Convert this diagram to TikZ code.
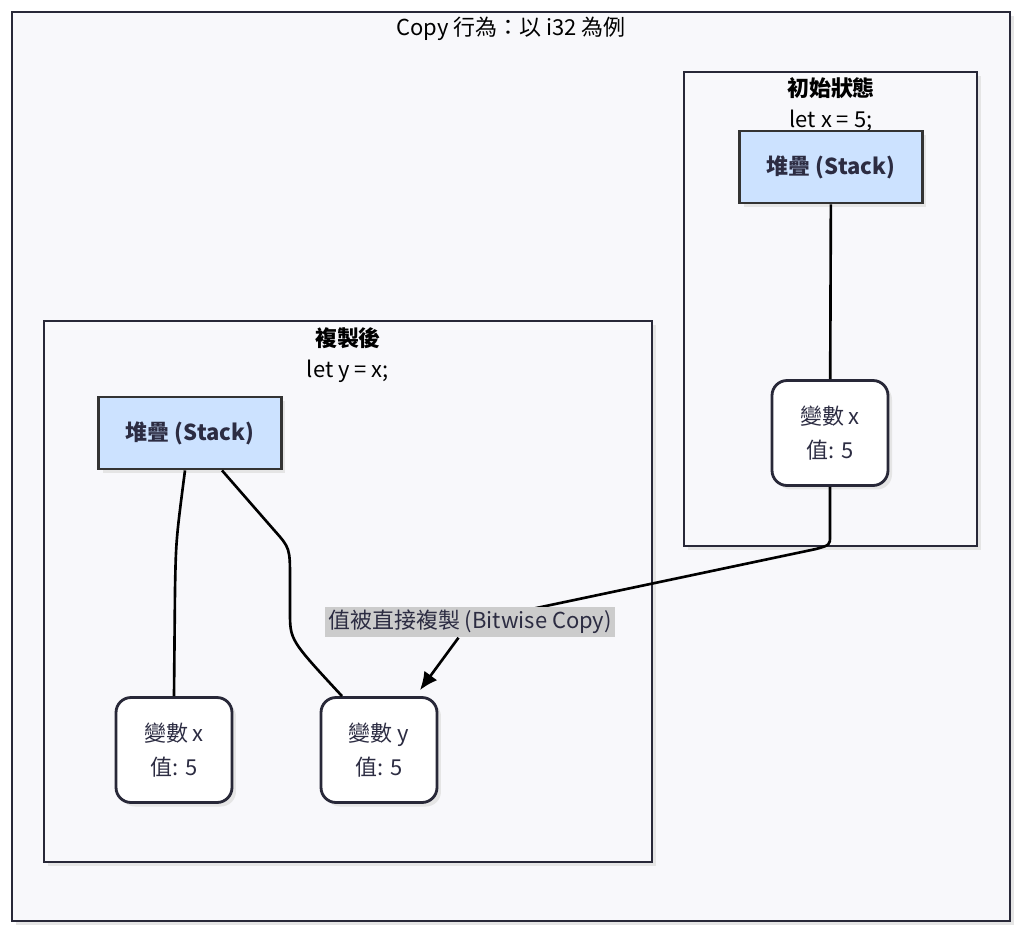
\documentclass[tikz,border=0pt]{standalone}
\usepackage{fontspec}
\setmainfont{Noto Sans CJK TC}
\usetikzlibrary{arrows.meta,positioning,shadows}
\definecolor{bgc}{RGB}{248,248,251}
\definecolor{edgec}{RGB}{40,40,56}
\definecolor{boxc}{RGB}{51,51,51}
\definecolor{stackc}{RGB}{204,226,255}
\definecolor{txtc}{RGB}{44,44,66}
\definecolor{lblc}{RGB}{204,204,204}

\begin{document}
\begin{tikzpicture}[x=0.02cm,y=-0.02cm,font=\fontsize{12.5}{15}\selectfont,
  cluster/.style={draw=edgec,fill=bgc,line width=1.6pt,drop shadow={fill=black!10,opacity=1,shadow xshift=0.08cm,shadow yshift=-0.08cm}},
  stackbox/.style={draw=boxc,fill=stackc,line width=1.6pt,minimum width=3.66cm,minimum height=1.44cm,font=\fontsize{12.5}{15}\selectfont\bfseries,text=txtc,drop shadow={fill=black!10,opacity=1,shadow xshift=0.08cm,shadow yshift=-0.08cm}},
  varbox/.style={draw=edgec,fill=white,line width=1.6pt,rounded corners=0.3cm,minimum width=2.32cm,minimum height=2.1cm,align=center,text=txtc,font=\fontsize{12.5}{19.5}\selectfont,drop shadow={fill=black!10,opacity=1,shadow xshift=0.08cm,shadow yshift=-0.08cm}},
  link/.style={line width=1.5pt},
  flow/.style={line width=1.5pt,-{Latex[length=3.6mm,width=3.2mm]}},
  copylbl/.style={fill=lblc,inner sep=2pt,text=txtc}]
  \useasboundingbox (0,0) rectangle (1024,937);
  \fill[white] (0,0) rectangle (1024,937);
  \draw[cluster] (12,12) rectangle (1010,921);
  \node (title) at (511,29) {Copy 行為：以 i32 為例};
  \draw[cluster] (684,72) rectangle (977,546);
  \node[font=\fontsize{12.5}{15}\selectfont\bfseries] (inittitle) at (831,88) {初始狀態};
  \node (initcode) at (831,121) {let x = 5;};
  \draw[cluster] (44,321) rectangle (652,862);
  \node[font=\fontsize{12.5}{15}\selectfont\bfseries] (copytitle) at (348,338) {複製後};
  \node (copycode) at (348,371) {let y = x;};
  \node[stackbox] (rs) at (831,167) {堆疊 (Stack)};
  \node[varbox] (rx) at (830,433) {變數 x\\值: 5};
  \node[stackbox] (ls) at (190,433) {堆疊 (Stack)};
  \node[varbox] (lx) at (174,750) {變數 x\\值: 5};
  \node[varbox] (ly) at (379,750) {變數 y\\值: 5};
  \draw[link] (rs) -- (rx);
  \draw[link] ([xshift=-0.1cm]ls.south) .. controls (176,540) .. (175,590) -- (lx.north);
  \draw[link] ([xshift=0.64cm]ls.south) -- (274,530) .. controls (290,548) .. (290,580) -- (290,612) .. controls (290,640) .. ([xshift=-0.74cm]ly.north);
  \coordinate (cp) at (470,622);
  \draw[link] (rx.south) -- (830,536) .. controls (830,545) .. (816,549) -- (cp);
  \node[copylbl] (cpl) at (cp) {值被直接複製 (Bitwise Copy)};
  \draw[flow] (cpl) -- ([xshift=0.82cm,yshift=0.12cm]ly.north);
\end{tikzpicture}
\end{document}
